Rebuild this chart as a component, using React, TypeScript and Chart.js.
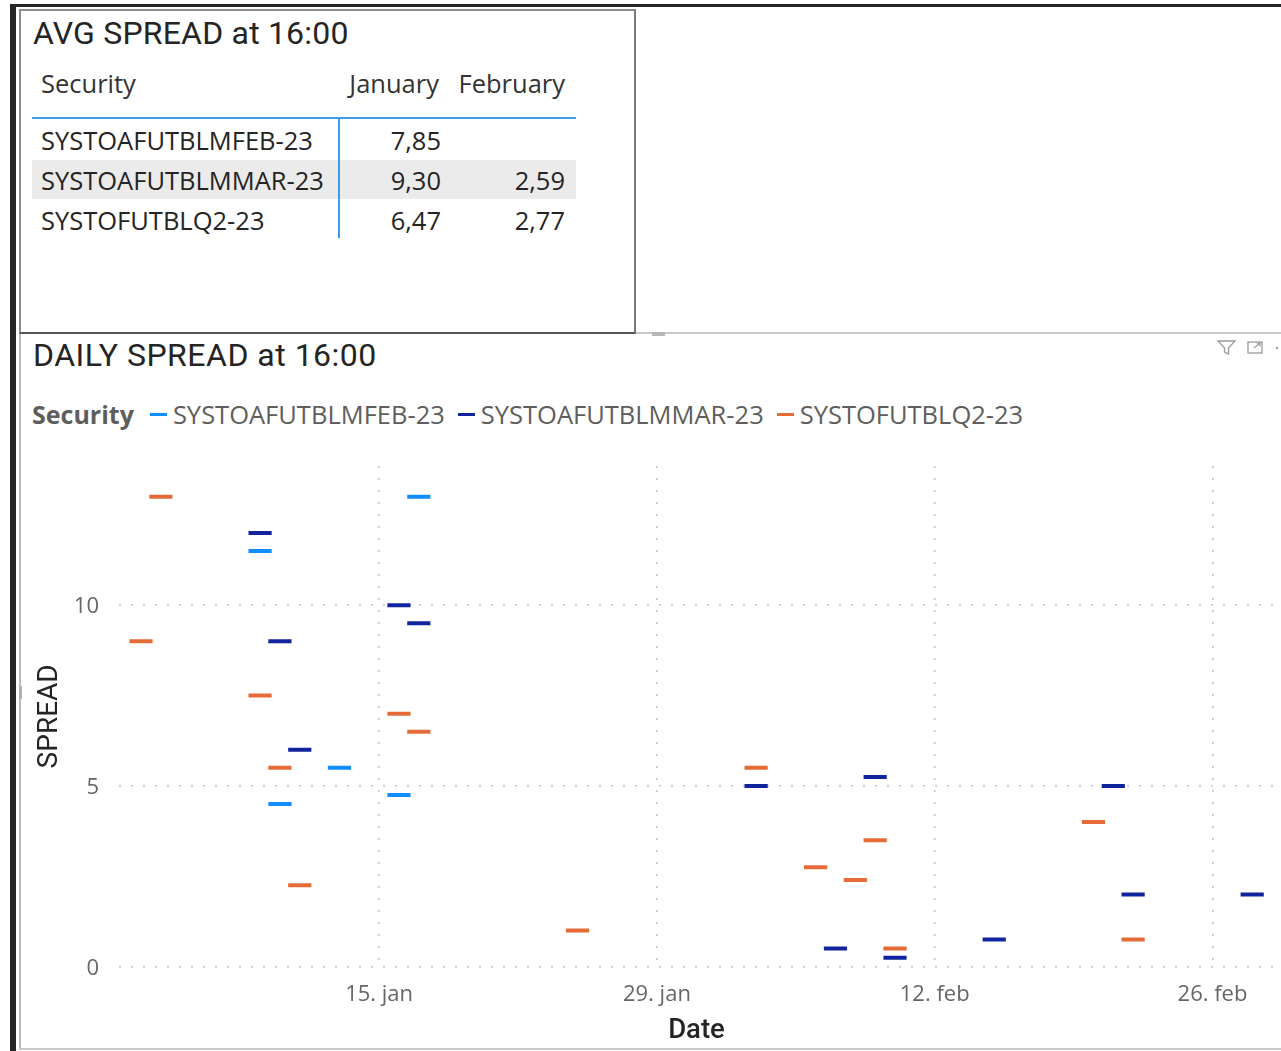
import React, { useEffect, useRef } from "react";
import { Chart, registerables } from "chart.js";

Chart.register(...registerables);

// ---------- data ----------
const securities = ["SYSTOAFUTBLMFEB-23", "SYSTOAFUTBLMMAR-23", "SYSTOFUTBLQ2-23"];
const seriesColors = ["#118DFF", "#12239E", "#E66C37"];
const monthHeaders = ["January", "February"];
const januaryAvg = ["7,85", "9,30", "6,47"];
const februaryAvg = ["", "2,59", "2,77"];

const febDates = ["2023-01-09", "2023-01-10", "2023-01-13", "2023-01-16", "2023-01-17"];
const febSpread = [11.5, 4.5, 5.5, 4.75, 13.0];

const marDates = [
  "2023-01-09", "2023-01-10", "2023-01-11", "2023-01-16", "2023-01-17",
  "2023-02-03", "2023-02-07", "2023-02-09", "2023-02-10", "2023-02-15",
  "2023-02-21", "2023-02-22", "2023-02-28",
];
const marSpread = [12.0, 9.0, 6.0, 10.0, 9.5, 5.0, 0.5, 5.25, 0.25, 0.75, 5.0, 2.0, 2.0];

const q2Dates = [
  "2023-01-03", "2023-01-04", "2023-01-09", "2023-01-10", "2023-01-11",
  "2023-01-16", "2023-01-17", "2023-01-25", "2023-02-03", "2023-02-06",
  "2023-02-08", "2023-02-09", "2023-02-10", "2023-02-20", "2023-02-22",
];
const q2Spread = [9.0, 13.0, 7.5, 5.5, 2.25, 7.0, 6.5, 1.0, 5.5, 2.75, 2.4, 3.5, 0.5, 4.0, 0.75];

const xTickDates = ["2023-01-15", "2023-01-29", "2023-02-12", "2023-02-26"];
const xTickLabels = ["15. jan", "29. jan", "12. feb", "26. feb"];
const yTicks = [0, 5, 10];

const X_MIN = 1.89;
const X_MAX = 60.1;
const Y_MAX = 13.85;

const dayNum = (iso: string) => {
  const [y, m, d] = iso.split("-").map(Number);
  return (Date.UTC(y, m - 1, d) - Date.UTC(2023, 0, 1)) / 86400000 + 1;
};

const seriesDates = [febDates, marDates, q2Dates];
const seriesValues = [febSpread, marSpread, q2Spread];

const TXT = "#252423";
const SUB = "#605E5C";
const UI = "'Segoe UI', 'Open Sans', sans-serif";
const DIN = "Roboto, 'Open Sans', sans-serif";
const FS = 25.5;

function ScatterChart() {
  const ref = useRef<HTMLCanvasElement | null>(null);
  useEffect(() => {
    if (!ref.current) return;
    const tickDays = xTickDates.map(dayNum);
    const chart = new Chart(ref.current, {
      type: "scatter",
      data: {
        datasets: securities.map((name, i) => ({
          label: name,
          data: seriesDates[i].map((d, k) => ({ x: dayNum(d), y: seriesValues[i][k] })),
          pointStyle: "line",
          pointRadius: 11.6,
          pointHoverRadius: 11.6,
          pointBorderWidth: 4,
          pointHoverBorderWidth: 4,
          borderColor: seriesColors[i],
          backgroundColor: seriesColors[i],
          showLine: false,
        })),
      },
      options: {
        animation: false,
        responsive: false,
        events: [],
        layout: { autoPadding: false, padding: { top: 131, right: 7, left: 0, bottom: 0 } },
        plugins: {
          legend: { display: false },
          title: { display: false },
          tooltip: { enabled: false },
        },
        scales: {
          x: {
            type: "linear",
            min: X_MIN,
            max: X_MAX,
            afterBuildTicks: (s: any) => {
              s.ticks = tickDays.map((v) => ({ value: v }));
            },
            afterFit: (s: any) => {
              s.height = 81.3;
              s.paddingLeft = 0;
              s.paddingRight = 0;
            },
            ticks: {
              autoSkip: false,
              maxRotation: 0,
              padding: 15,
              color: "#666666",
              font: { family: "'Open Sans'", size: 22 },
              callback: (v: any) => {
                const idx = tickDays.indexOf(Number(v));
                return idx >= 0 ? xTickLabels[idx] : "";
              },
            },
            grid: { color: "#c4c4c4", lineWidth: 1.5, drawTicks: false },
            border: { display: false, dash: [2, 10] },
            title: {
              display: true,
              text: "Date",
              color: TXT,
              font: { family: "Roboto", size: 27.5, weight: "500" },
              padding: { top: 0, bottom: 0 },
            },
          },
          y: {
            min: 0,
            max: Y_MAX,
            afterBuildTicks: (s: any) => {
              s.ticks = yTicks.map((v) => ({ value: v }));
            },
            afterFit: (s: any) => {
              s.width = 99;
              s.paddingTop = 0;
              s.paddingBottom = 0;
            },
            ticks: {
              padding: 20,
              labelOffset: 2,
              color: "#666666",
              font: { family: "'Open Sans'", size: 22 },
              callback: (v: any) => String(v),
            },
            grid: { color: "#c4c4c4", lineWidth: 1.5, drawTicks: false },
            border: { display: false, dash: [2, 10] },
            title: {
              display: true,
              text: "SPREAD",
              color: TXT,
              font: { family: "Roboto", size: 28, weight: "normal" },
              padding: { top: 13, bottom: 0 },
            },
          },
        },
      },
    } as any);
    return () => chart.destroy();
  }, []);
  return (
    <canvas
      ref={ref}
      width={1261}
      height={713}
      style={{ position: "absolute", left: 20, top: 335, width: 1261, height: 713 }}
    />
  );
}

function FilterIcons() {
  return (
    <svg
      width={70}
      height={20}
      style={{ position: "absolute", left: 1214, top: 338 }}
      viewBox="0 0 70 20"
    >
      <path d="M4 3 H21 L14.5 10 V16 L10.5 14 V10 Z" fill="none" stroke="#9a9a9a" strokeWidth={1.3} />
      <rect x={34} y={4} width={14} height={11} fill="none" stroke="#9a9a9a" strokeWidth={1.3} />
      <path d="M40 10 L46 5 M42.5 5 H46 V8.5" fill="none" stroke="#9a9a9a" strokeWidth={1.2} />
      <circle cx={63} cy={10} r={1.2} fill="#9a9a9a" />
    </svg>
  );
}

export default function App() {
  const rowTops = [120, 160, 200];
  return (
    <div
      style={{
        position: "absolute",
        left: 0,
        top: 0,
        width: 1281,
        height: 1051,
        overflow: "hidden",
        background: "#ffffff",
        fontFamily: UI,
      }}
    >
      {/* dark frame */}
      <div style={{ position: "absolute", left: 10, top: 4, width: 1271, height: 3, background: "#262626" }} />
      <div style={{ position: "absolute", left: 10, top: 4, width: 6, height: 1047, background: "#262626" }} />

      {/* chart visual borders */}
      <div style={{ position: "absolute", left: 19, top: 334, width: 2, height: 716, background: "#bdbdbd" }} />
      <div style={{ position: "absolute", left: 19, top: 1048, width: 1262, height: 2, background: "#c8c8c8" }} />
      <div style={{ position: "absolute", left: 636, top: 332, width: 645, height: 2, background: "#c8c8c8" }} />
      <div style={{ position: "absolute", left: 652, top: 332, width: 13, height: 4, background: "#b8b8b8" }} />
      <div style={{ position: "absolute", left: 19, top: 686, width: 3, height: 13, background: "#b0b0b0" }} />

      {/* table visual */}
      <div
        style={{
          position: "absolute",
          left: 19,
          top: 9,
          width: 613,
          height: 321,
          border: "2px solid #8c8c8c",
          borderBottomColor: "#555555",
          borderRightColor: "#7a7a7a",
        }}
      />
      <div
        style={{
          position: "absolute",
          left: 33,
          top: 17,
          fontFamily: DIN,
          fontSize: 32,
          lineHeight: "32px",
          letterSpacing: "0.2px",
          color: TXT,
          whiteSpace: "nowrap",
        }}
      >
        AVG SPREAD at 16:00
      </div>

      {/* header */}
      <div style={{ position: "absolute", left: 41, top: 63, fontSize: FS, lineHeight: "40px", color: "#333333" }}>
        Security
      </div>
      <div
        style={{ position: "absolute", left: 329, width: 110, top: 63, fontSize: FS, lineHeight: "40px", color: "#333333", textAlign: "right" }}
      >
        {monthHeaders[0]}
      </div>
      <div
        style={{ position: "absolute", left: 445, width: 120, top: 63, fontSize: FS, lineHeight: "40px", color: "#333333", textAlign: "right" }}
      >
        {monthHeaders[1]}
      </div>
      <div style={{ position: "absolute", left: 32, top: 117, width: 544, height: 2, background: "#3C9BEB" }} />

      {/* rows */}
      <div style={{ position: "absolute", left: 32, top: 160, width: 544, height: 39, background: "#EBEBEB" }} />
      {securities.map((s, i) => (
        <React.Fragment key={s}>
          <div
            style={{ position: "absolute", left: 41, top: rowTops[i], fontSize: FS, lineHeight: "40px", color: TXT, whiteSpace: "nowrap" }}
          >
            {s}
          </div>
          <div
            style={{ position: "absolute", left: 341, width: 100, top: rowTops[i], fontSize: FS, lineHeight: "40px", color: TXT, textAlign: "right" }}
          >
            {januaryAvg[i]}
          </div>
          <div
            style={{ position: "absolute", left: 445, width: 120, top: rowTops[i], fontSize: FS, lineHeight: "40px", color: TXT, textAlign: "right" }}
          >
            {februaryAvg[i]}
          </div>
        </React.Fragment>
      ))}
      <div style={{ position: "absolute", left: 338, top: 119, width: 2, height: 119, background: "#3C9BEB" }} />

      {/* chart title */}
      <div
        style={{
          position: "absolute",
          left: 33,
          top: 339,
          fontFamily: DIN,
          fontSize: 32,
          lineHeight: "32px",
          letterSpacing: "0.5px",
          color: TXT,
          whiteSpace: "nowrap",
        }}
      >
        DAILY SPREAD at 16:00
      </div>
      <FilterIcons />

      {/* legend */}
      <div
        style={{
          position: "absolute",
          left: 32,
          top: 394,
          height: 40,
          display: "flex",
          alignItems: "center",
          fontSize: FS,
          lineHeight: "40px",
          color: SUB,
          whiteSpace: "nowrap",
        }}
      >
        <span style={{ fontWeight: 700, fontSize: 25, marginRight: 16 }}>Security</span>
        {securities.map((s, i) => (
          <span key={s} style={{ display: "flex", alignItems: "center", marginRight: 13 }}>
            <span style={{ display: "inline-block", width: 17, height: 3, background: seriesColors[i], marginRight: 6 }} />
            {s}
          </span>
        ))}
      </div>

      <ScatterChart />
    </div>
  );
}
